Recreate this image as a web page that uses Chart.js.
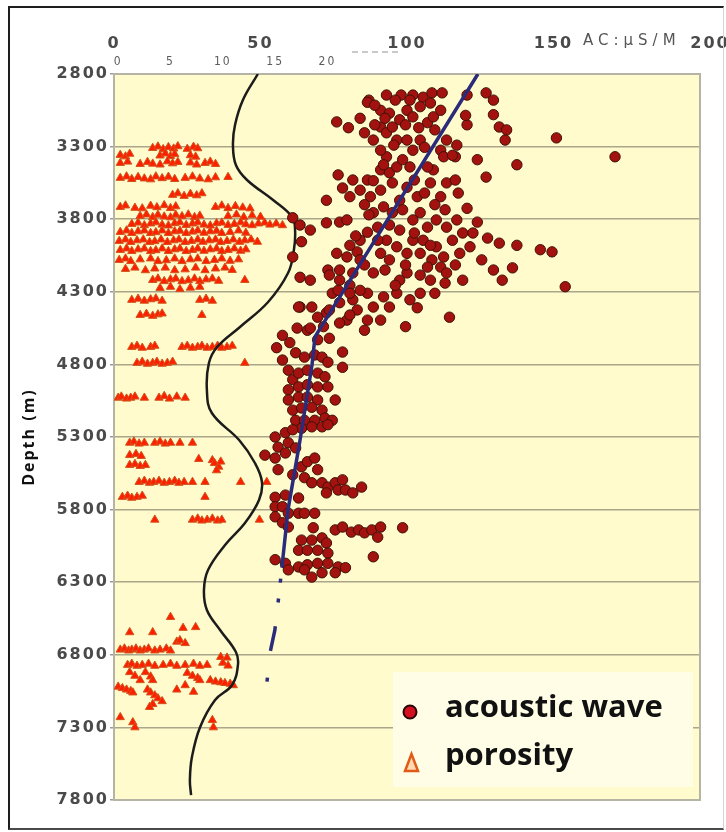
<!DOCTYPE html>
<html>
<head>
<meta charset="utf-8">
<script src="https://cdn.jsdelivr.net/npm/chart.js@4.4.1/dist/chart.umd.min.js"></script>
<style>
  html, body { margin: 0; padding: 0; background: #fff; }
  #wrap { position: relative; width: 726px; height: 832px; }
  #graph { position: absolute; left: 0; top: 0; }
  #frame {
    position: absolute; left: 8px; top: 6px; width: 716px; height: 824px;
    box-sizing: border-box; pointer-events: none;
    border-left: 2px solid #1e1e1e; border-top: 2px solid #1e1e1e;
    border-bottom: 2px solid #4a4a4a; border-right: 1px solid #d4d4d4;
  }
</style>
</head>
<body>
<div id="wrap">
  <canvas id="graph" width="726" height="832"></canvas>
  <div id="frame"></div>
</div>
<script>
// -------------------------
// AXES
// -------------------------
const depthTicks = [2800, 3300, 3800, 4300, 4800, 5300, 5800, 6300, 6800, 7300, 7800];
const acTicks = [0, 50, 100, 150, 200];
const porosityTicks = [0, 5, 10, 15, 20];

// -------------------------
// ACOUSTIC WAVE  [AC us/m, depth m]
// -------------------------
const acousticWave = [
  [87,2980],[93,2945],[98,2945],[102,2945],[105.5,2960],[108.5,2930],[112,2930],
  [76,3130],[80,3170],[84,3105],[85.5,3205],[86.5,2995],
  [120.5,2945],[127,2930],[129.5,2980],[129.5,3080],[131.5,3165],[134,3185],[133.5,3255],[151,3240],
  [171,3370],[137.5,3425],[124,3390],[127,3510],[120.5,3150],[120,3085],[117,3290],[116.5,3370],
  [76.5,3495],[78,3585],[72.5,3670],[72.5,3825],[77,3820],[79.5,3805],[86.5,3890],[76,4035],
  [79.5,4060],[83,4025],[73,4150],[63.5,4405],[67.5,4405],[62.5,4550],[66,4565],
  [117.5,3620],[120.5,3725],[124,3820],[127.5,3930],[131.5,3965],[137.5,3980],[145.5,4010],[149.5,4025],
  [154,4265],[136,4135],[132.5,4220],[129.5,4150],[125.5,4080],
  [114.5,4475],[109.5,4310],[103.5,4410],[99.5,4540],[113,4240],[111.5,4130],[108.5,4080],[115.5,3945],
  [113.5,3855],[110,3805],[107,3855],[104.5,3755],[111.5,3645],[113.5,3550],[109,3460],[107,3440],
  [104.5,3255],[106,3305],[111.5,3325],[112.5,3370],[113.5,3255],[115.5,3360],[108,3550],[103.5,3645],
  [100,3580],[97.5,3670],[95,3755],[93,3945],[96.5,3990],[100,4035],[102,3945],[104.5,4035],
  [107,4130],[100,4170],[97.5,4220],[94,4080],[91,4035],[88.5,4170],[86.5,4310],[88.5,4405],
  [91,4495],[86.5,4495],[83,4425],[79.5,4495],[77,4375],[74.5,4310],[77,4220],[81.5,4170],
  [84,4080],[90,3855],[88.5,3755],[92,3715],[87.5,3645],[84,3600],[81.5,3530],[80.5,3645],
  [86.5,3530],[88.5,3535],[91,3460],[94,3480],[96.5,3440],[93,3370],[91,3325],[88.5,3255],
  [91,3165],[93,3205],[95,3165],[97.5,3115],[100,3050],[102,3095],[104.5,3025],[107,3135],
  [109,3095],[111.5,3050],[91,3050],[94,3070],[96.5,3255],[100,3255],[102,3325],[98.5,3390],
  [101,3440],[95,3550],[98.5,3735],[102,3805],[105.5,3945],[110,3990],[112.5,4060],[118,4035],
  [121.5,3990],[119,3895],[117,3805],[122.5,3895],[113.5,4170],[108,4220],[104.5,4310],[96.5,4310],
  [94,4405],[92,4335],[81.5,4355],[77,4515],[72.5,4445],[71.5,4540],[69.5,4475],
  [89,3015],[96,2980],[101,2980],[108,3000],[92.5,3105],[99.5,3150],[104,3170],[109.5,3185],
  [89,3150],[95.5,3290],[92,3425],[102.5,3530],[106,3620],[91,3600],[85.5,3700],[94,3840],
  [97.5,3875],[84,3945],[80.5,3980],[85.5,4115],[92.5,4150],[96,4255],[101,4355],[84,4290],
  [80.5,4460],[85.5,4565],[73.5,4425],[82.5,3915],[102.5,3895],[108,3980],[113,3735],[116.5,3530],
  [109.5,3700],[99.5,4115],[104.5,4185],[116.5,4115],[119,4220],[80.5,4255],[90,3945],[87,3770],
  [61,3790],[63.5,3840],[67,3875],[64,3955],[61,4060],[63.5,4200],[67,4220],[63,4405],
  [67,4550],[73.5,4185],[77,4150],[76.5,4290],[80.5,4310],
  [57.5,4600],[69.5,4630],[73.5,4620],[60,4650],
  [55.5,4685],[57.5,4770],[59.5,4840],[62,4720],[65,4750],[68.5,4735],[71,4750],[73,4785],
  [78,4715],[78,4820],[61,4905],[63,4860],[66,4840],[69.5,4860],[72,4885],[59.5,4975],
  [63,4955],[66,4940],[69.5,4955],[73,4955],[59.5,5045],[63,5025],[66,5025],[69.5,5045],
  [75.5,5045],[61,5115],[64,5100],[67.5,5095],[71,5115],[62,5185],[65,5185],[68.5,5185],
  [72,5170],[74.5,5185],[64,5240],[67.5,5230],[71,5230],[73,5215],[55,5300],[58.5,5270],
  [61,5250],[56,5370],[59.5,5340],[62,5375],[51.5,5425],[55,5445],[58.5,5410],[56,5525],
  [61,5560],[64,5505],[66,5470],[68.5,5445],[69.5,5525],[65,5580],[67.5,5615],[71,5615],
  [73,5645],[75.5,5615],[78,5595],[72.5,5685],[76.5,5665],[79,5665],[81.5,5685],[84.5,5645],
  [55,5715],[58.5,5700],[63,5720],[55,5780],[57.5,5780],[59.5,5825],[63,5825],[65,5825],
  [68.5,5825],[55,5850],[57.5,5890],[59.5,5920],[68,5925],[75.5,5940],[78,5920],[81,5955],
  [83.5,5940],[85.5,5960],[88,5940],[91,5920],[90,5990],[98.5,5925],[64,6010],[67.5,6010],
  [71,5995],[72.5,6030],[63,6080],[66,6080],[69.5,6080],[73,6100],[88.5,6125],[55,6145],
  [58.5,6170],[63,6195],[66,6180],[69.5,6170],[73,6170],[76.5,6195],[79,6200],[59.5,6215],
  [65,6215],[71,6235],[75.5,6235],[67.5,6265]
];

// -------------------------
// POROSITY  [%, depth m]
// -------------------------
const porosity = [
  [3.3,3310],[3.8,3300],[4.3,3318],[4.8,3304],[5.3,3314],[5.7,3298],[6.6,3316],[7.2,3302],[7.6,3312],
  [0.2,3358],[0.7,3368],[1.1,3350],[4.0,3362],[4.5,3348],[5.0,3366],[5.4,3352],[6.9,3360],[7.4,3370],
  [0.2,3413],[0.9,3404],[2.1,3420],[2.8,3406],[3.3,3418],[4.0,3424],[4.7,3402],[5.2,3416],[5.7,3406],
  [6.9,3410],[7.5,3424],[8.3,3413],[8.8,3404],[9.3,3420],
  [0.2,3516],[0.8,3506],[1.3,3524],[1.9,3510],[2.5,3520],[3.1,3526],[3.6,3506],[4.2,3518],[4.8,3508],
  [5.4,3524],[6.4,3516],[7.1,3506],[7.8,3520],[8.6,3526],[9.3,3512],[10.5,3510],
  [5.2,3633],[5.7,3622],[6.3,3640],[6.9,3626],[7.5,3636],[8.0,3622],
  [0.2,3716],[0.7,3706],[1.6,3722],[2.3,3726],[3.1,3708],[3.7,3718],[4.4,3704],[5.0,3724],[5.5,3712],
  [9.3,3716],[9.9,3706],[10.5,3724],[11.2,3710],[11.9,3720],[12.6,3726],
  [2.1,3778],[2.7,3768],[3.3,3786],[3.8,3770],[4.4,3782],[5.0,3788],[5.5,3770],[6.1,3780],[6.7,3768],
  [7.3,3786],[7.8,3776],[10.5,3778],[11.3,3768],[12.0,3786],[12.8,3774],[13.6,3784],
  [1.3,3833],[1.9,3824],[2.5,3842],[3.1,3830],[3.6,3822],[4.2,3838],[4.8,3844],[5.4,3828],[5.9,3822],
  [6.5,3840],[7.1,3830],[7.6,3822],[8.2,3838],[8.8,3844],[9.4,3828],[9.9,3824],[10.5,3840],[11.1,3833],
  [11.7,3822],[12.2,3836],[12.8,3842],[13.4,3830],[14.0,3824],[14.5,3838],[15.1,3830],[15.7,3842],
  [0.2,3888],[0.8,3878],[1.3,3896],[1.9,3884],[2.5,3878],[3.1,3896],[3.6,3890],[4.2,3878],[4.8,3896],
  [5.4,3884],[5.9,3880],[6.5,3896],[7.1,3886],[7.6,3878],[8.2,3894],[8.8,3884],[9.4,3880],[9.9,3896],
  [10.7,3888],[11.5,3878],[12.2,3894],
  [0.1,3950],[0.7,3940],[1.2,3958],[1.8,3946],[2.4,3940],[3.0,3958],[3.5,3952],[4.1,3940],[4.7,3958],
  [5.3,3946],[5.8,3940],[6.4,3958],[7.0,3950],[7.6,3940],[8.1,3956],[8.7,3946],[9.3,3940],[9.8,3958],
  [10.4,3950],[11.0,3940],[11.6,3956],[12.1,3946],[12.7,3940],[13.3,3956],
  [0.2,4012],[0.8,4002],[1.3,4020],[1.9,4008],[2.5,4002],[3.1,4020],[3.6,4014],[4.2,4002],[4.8,4020],
  [5.4,4008],[5.9,4002],[6.5,4020],[7.1,4012],[7.6,4002],[8.2,4018],[8.8,4008],[9.4,4002],[9.9,4020],
  [10.5,4012],[11.1,4002],[11.7,4018],[12.2,4008],
  [0.1,4081],[0.7,4071],[1.2,4089],[2.1,4077],[3.1,4071],[3.8,4089],[4.6,4083],[5.4,4071],[6.1,4089],
  [6.9,4077],[7.6,4071],[8.4,4089],[9.2,4081],[9.9,4071],[10.7,4087],[11.5,4077],
  [0.7,4143],[1.6,4134],[2.6,4152],[3.5,4140],[4.5,4134],[5.4,4152],[6.4,4146],[7.4,4134],[8.3,4152],
  [9.3,4140],[10.2,4134],[10.9,4150],
  [3.3,4219],[3.8,4209],[4.4,4227],[5.0,4215],[5.5,4209],[6.1,4227],[6.7,4221],[7.3,4209],[7.8,4227],
  [8.4,4215],[9.0,4209],[9.6,4225],[12.1,4219],
  [4.0,4274],[5.0,4266],[5.9,4282],[6.9,4272],[7.8,4266],
  [1.3,4356],[1.9,4348],[2.5,4362],[3.1,4352],[3.6,4346],[4.2,4362],[7.8,4356],[8.4,4348],[9.0,4362],
  [2.1,4460],[2.7,4452],[3.3,4466],[3.8,4456],[4.2,4450],[8.0,4460],
  [1.3,4680],[1.8,4672],[2.3,4686],[3.1,4680],[3.5,4672],[6.1,4680],[6.6,4672],[7.1,4686],[7.6,4680],
  [8.0,4672],[8.5,4686],[9.0,4680],[9.5,4672],[9.9,4686],[10.4,4680],[10.9,4672],
  [1.8,4790],[2.3,4782],[2.8,4796],[3.3,4790],[3.7,4782],[4.2,4796],[4.7,4790],[5.2,4782],[12.1,4790],
  [0,5030],[0.3,5022],[0.8,5036],[1.2,5030],[1.6,5022],[2.5,5030],[3.9,5030],[4.4,5018],[4.9,5036],
  [5.6,5022],[6.4,5030],
  [1.1,5340],[1.5,5332],[2.0,5346],[2.5,5340],[3.5,5340],[4.0,5332],[4.5,5346],[5.0,5340],[5.9,5340],[7.1,5340],
  [1.1,5425],[1.7,5417],[2.2,5431],[7.7,5452],[9.0,5460],[9.2,5480],[9.6,5505],[9.4,5530],[9.8,5470],
  [1.1,5493],[1.6,5486],[2.1,5500],[2.6,5493],
  [2.0,5610],[2.5,5602],[3.0,5616],[3.4,5610],[3.9,5602],[4.4,5616],[4.9,5610],[5.4,5602],[5.8,5616],
  [6.3,5610],[7.1,5610],[8.3,5610],[11.7,5610],[14.2,5610],
  [0.4,5713],[0.9,5705],[1.3,5719],[1.8,5713],[2.3,5705],[8.3,5713],
  [3.5,5870],[7.1,5870],[7.6,5862],[8.0,5876],[8.5,5870],[9.0,5862],[9.5,5876],[9.9,5870],[13.5,5870],
  [5.0,6540],[1.1,6645],[3.3,6645],[6.2,6615],[7.4,6610],[5.6,6710],[6.4,6720],[5.9,6700],
  [0.2,6765],[0.6,6757],[1.0,6771],[1.3,6765],[1.7,6757],[2.1,6771],[2.5,6765],[2.9,6757],[3.5,6771],
  [4.0,6765],[4.6,6757],[5.0,6771],
  [9.8,6815],[10.4,6820],[10.0,6855],[10.5,6875],
  [0.9,6870],[1.3,6862],[1.8,6876],[2.3,6870],[2.9,6862],[3.5,6876],[4.3,6870],[5.0,6862],[5.6,6876],
  [6.4,6870],[7.2,6862],[7.8,6876],[8.5,6870],
  [1.1,6920],[1.6,6945],[2.1,6975],[2.6,6920],[3.1,6950],[3.3,6975],
  [6.6,6925],[7.1,6945],[7.6,6960],[7.8,6975],
  [8.8,6975],[9.3,6985],[9.8,6990],[10.2,6995],[10.7,7000],[11.0,7010],
  [0,7020],[0.4,7030],[0.8,7040],[1.2,7050],[1.4,7060],
  [2.8,7040],[3.1,7060],[3.5,7080],[3.8,7100],[4.2,7120],[3.3,7140],[3.0,7160],
  [5.6,7040],[7.2,7055],[6.4,7010],
  [0.2,7230],[1.4,7265],[1.6,7300],[9.1,7300],[9.0,7250]
];

// -------------------------
// TREND CURVE (black) + FIT LINE (blue)
// -------------------------
const curveAC = [49.1, 44.0, 41.3, 40.6, 41.6, 45.4, 54.3, 60.8, 61.8, 61.4, 59.4, 52.6, 43.0, 35.2, 32.4, 31.7, 33.4, 42.7,
  48.1, 50.5, 49.5, 44.7, 37.9, 32.1, 30.7, 31.7, 36.2, 41.6, 42.3, 40.3, 34.5, 29.4, 26.6, 25.9, 26.3];
const curveDepth = [2800, 2979, 3151, 3289, 3427, 3530, 3668, 3785, 3874, 4012, 4171, 4370, 4542, 4680, 4790, 4976, 5135, 5321,
  5479, 5610, 5734, 5892, 6044, 6216, 6354, 6491, 6629, 6781, 6870, 7008, 7111, 7297, 7504, 7662, 7766];

const fitAC = [124.2, 68.6, 67.6, 63.5, 59.4, 57.3, 56.0, 54.9, 53.2, 52.2];
const fitDepth = [2800, 4610, 4800, 5320, 5800, 6200, 6440, 6630, 6790, 6990];

const toXY = (xs, ys) => xs.map((v, i) => ({ x: v, y: ys[i] }));

// -------------------------
// DECORATION PLUGIN
// -------------------------
const plotDecor = {
  id: "plotDecor",
  beforeDraw(chart) {
    const { ctx, chartArea: a } = chart;
    ctx.save();
    ctx.fillStyle = "#fffbcc";
    ctx.fillRect(a.left, a.top, a.right - a.left, a.bottom - a.top);
    ctx.restore();
    // wide axis lettering
    ctx.letterSpacing = "2px";
  },
  beforeDatasetsDraw(chart) {
    const { ctx, chartArea: a } = chart;
    ctx.letterSpacing = "0px";
    ctx.save();
    ctx.strokeStyle = "#b6b4a4";
    ctx.lineWidth = 2;
    ctx.strokeRect(a.left, a.top, a.right - a.left, a.bottom - a.top);
    ctx.restore();
  },
  afterDraw(chart) {
    const { ctx, chartArea: a } = chart;
    ctx.save();
    ctx.letterSpacing = "0px";

    // unit text next to the last AC tick
    ctx.font = '15px "DejaVu Sans"';
    ctx.fillStyle = "#555";
    ctx.textAlign = "left";
    ctx.textBaseline = "alphabetic";
    ctx.letterSpacing = "5px";
    ctx.fillText("AC:\u03bcS/M", 583, 45);
    ctx.letterSpacing = "0px";

    // faint dashes above the porosity scale
    ctx.strokeStyle = "#b8b8b8";
    ctx.lineWidth = 1.5;
    ctx.setLineDash([6, 4]);
    ctx.beginPath();
    ctx.moveTo(352, 52);
    ctx.lineTo(398, 52);
    ctx.stroke();
    ctx.setLineDash([]);

    // legend
    const lx = a.right - 307, ly = a.bottom - 128;
    ctx.fillStyle = "#fffde6";
    ctx.fillRect(lx, ly, 300, 115);

    ctx.beginPath();
    ctx.arc(lx + 17, ly + 40, 6.5, 0, Math.PI * 2);
    ctx.fillStyle = "#d41020";
    ctx.fill();
    ctx.lineWidth = 2;
    ctx.strokeStyle = "#2a0505";
    ctx.stroke();

    ctx.beginPath();
    ctx.moveTo(lx + 18.5, ly + 82);
    ctx.lineTo(lx + 12, ly + 99);
    ctx.lineTo(lx + 25, ly + 99);
    ctx.closePath();
    ctx.fillStyle = "#ffd9b0";
    ctx.fill();
    ctx.lineWidth = 2.5;
    ctx.strokeStyle = "#e05a18";
    ctx.stroke();

    ctx.fillStyle = "#111";
    ctx.font = 'bold 31px "Open Sans"';
    ctx.fillText("acoustic wave", lx + 52, ly + 45);
    ctx.fillText("porosity", lx + 52, ly + 93);
    ctx.restore();
  }
};

// -------------------------
// INIT CHART
// -------------------------
function initChart() {
  const ctx = document.getElementById("graph").getContext("2d");

  new Chart(ctx, {
    type: "scatter",
    data: {
      datasets: [
        {
          label: "fit",
          data: toXY(fitAC, fitDepth),
          showLine: true,
          borderColor: "#2b2b7c",
          borderWidth: 3.5,
          pointRadius: 0,
          tension: 0,
          xAxisID: "x",
          order: 0,
          segment: {
            borderDash: c => c.p0.parsed.y >= 6200 ? [4, 16, 4, 24, 25, 27] : undefined,
            borderDashOffset: c => c.p0.parsed.y >= 6200 ? -11 : undefined
          }
        },
        {
          label: "acoustic wave",
          data: acousticWave.map(p => ({ x: p[0], y: p[1] })),
          pointStyle: "circle",
          pointRadius: 5.2,
          backgroundColor: "#a3120e",
          borderColor: "#3e1208",
          borderWidth: 1,
          xAxisID: "x",
          order: 1
        },
        {
          label: "curve",
          data: toXY(curveAC, curveDepth),
          showLine: true,
          borderColor: "#1c1c1c",
          borderWidth: 2.5,
          pointRadius: 0,
          tension: 0.4,
          xAxisID: "x",
          order: 2
        },
        {
          label: "porosity",
          data: porosity.map(p => ({ x: p[0], y: p[1] })),
          pointStyle: "triangle",
          pointRadius: 4.8,
          backgroundColor: "#ff1e00",
          borderColor: "#d2531a",
          borderWidth: 1,
          xAxisID: "xp",
          order: 3
        }
      ]
    },
    options: {
      responsive: false,
      animation: false,
      layout: { padding: { left: 16, top: 20, right: 26, bottom: 32 } },
      plugins: {
        legend: { display: false },
        tooltip: { enabled: false }
      },
      scales: {
        x: {
          type: "linear",
          position: "top",
          min: 0,
          max: 200,
          weight: 2,
          afterBuildTicks: s => { s.ticks = acTicks.map(v => ({ value: v })); },
          afterFit: s => { s.height = 34; },
          grid: { drawOnChartArea: false, drawTicks: false },
          border: { display: false },
          ticks: {
            padding: 1,
            autoSkip: false,
            maxRotation: 0,
            color: "#4a4a4a",
            font: { family: "DejaVu Sans", size: 16, weight: "bold" },
            callback: v => v === 200 ? "\u2002\u2002200" : String(v)
          }
        },
        xp: {
          type: "linear",
          position: "top",
          min: -0.4,
          max: 55.6,
          weight: 1,
          afterBuildTicks: s => { s.ticks = porosityTicks.map(v => ({ value: v })); },
          afterFit: s => { s.height = 20; },
          grid: { drawOnChartArea: false, drawTicks: false },
          border: { display: false },
          ticks: {
            padding: 5,
            autoSkip: false,
            maxRotation: 0,
            color: "#5c5c5c",
            font: { family: "'DejaVu Sans Condensed', 'Liberation Sans Narrow', 'DejaVu Sans'", size: 12 },
            callback: v => String(v)
          }
        },
        y: {
          type: "linear",
          reverse: true,
          min: 2800,
          max: 7800,
          afterBuildTicks: s => { s.ticks = depthTicks.map(v => ({ value: v })); },
          afterFit: s => { s.width = 98; },
          title: {
            display: true,
            text: "Depth (m)",
            color: "#111",
            font: { family: "Open Sans", size: 16, weight: "bold" },
            padding: { top: 4, bottom: 4 }
          },
          grid: { color: "#aaa68a", lineWidth: 1.5, tickLength: 4, tickColor: "#9a9a9a" },
          border: { display: false },
          ticks: {
            padding: 1,
            autoSkip: false,
            color: "#4a4a4a",
            font: { family: "DejaVu Sans", size: 16, weight: "bold" },
            callback: v => String(v)
          }
        }
      }
    },
    plugins: [plotDecor]
  });
}

initChart();
</script>
</body>
</html>
